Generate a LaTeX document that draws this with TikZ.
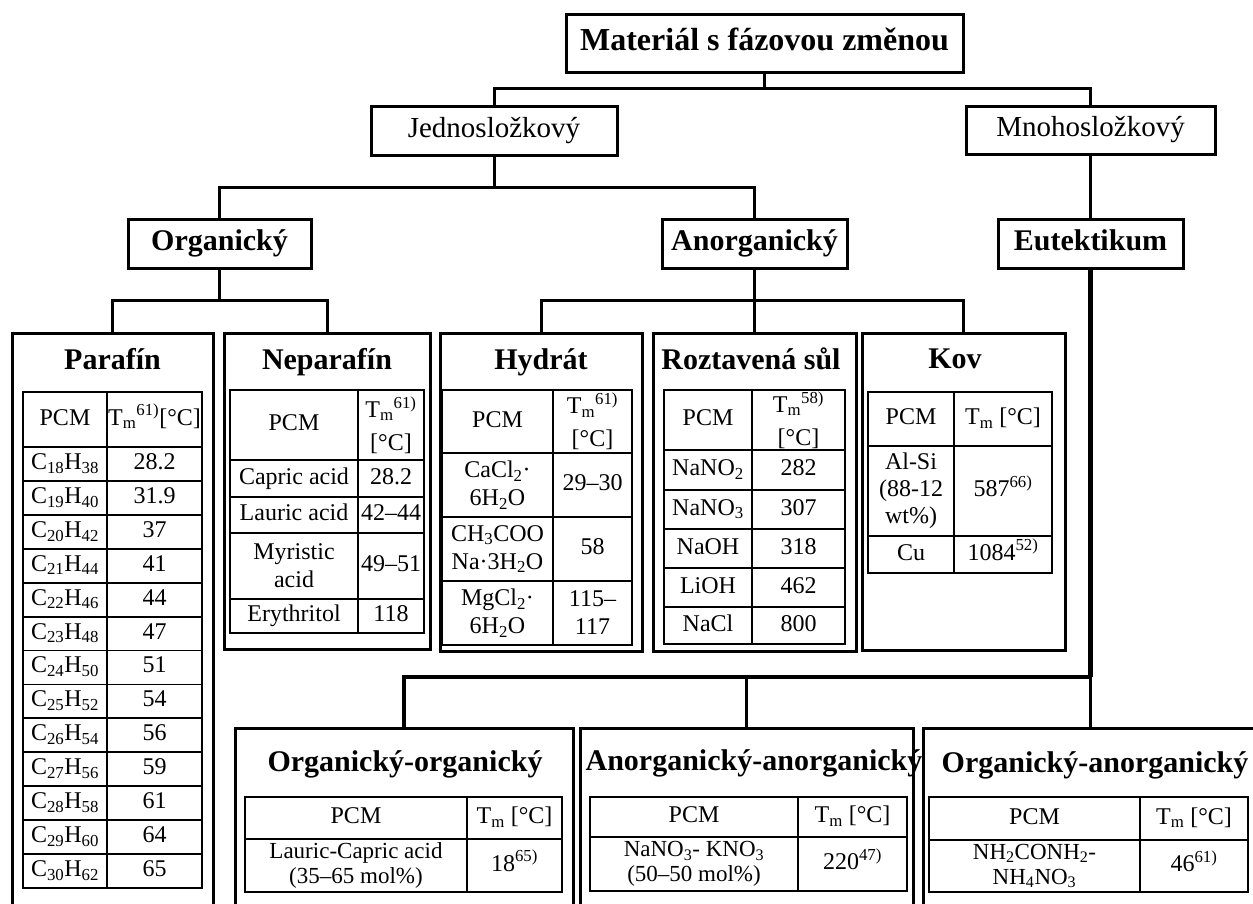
\documentclass[tikz,border=0pt]{standalone}
\usepackage{fontspec}
\setmainfont{Liberation Serif}
\newcommand\ssub[1]{\textsubscript{#1}}
\newcommand\ssup[1]{\textsuperscript{#1}}
\newcommand\Tm[1]{T\textsubscript{m}\textsuperscript{#1}}
\begin{document}
\begin{tikzpicture}[x=1pt,y=-1pt,
  box/.style={draw, line width=3pt, fill=white, inner sep=0pt},
  topbox/.style={box, text height=21.8pt, text depth=7pt, font=\fontsize{32}{36}\selectfont\bfseries},
  midbox/.style={box, text height=19.7pt, text depth=6.4pt, font=\fontsize{29}{33}\selectfont},
  catbox/.style={box, text height=20.4pt, text depth=6.6pt, font=\fontsize{30}{34}\selectfont\bfseries},
  ttl/.style={inner sep=0pt, text height=20.4pt, text depth=6.6pt, font=\fontsize{30}{34}\selectfont\bfseries},
  cell/.style={inner sep=0pt, text height=16.3pt, text depth=5.3pt, font=\fontsize{24}{28}\selectfont},
  mcell/.style={inner sep=0pt, align=center, font=\fontsize{24}{28}\selectfont},
  tcell/.style={inner sep=0pt, align=center, font=\fontsize{23}{25}\selectfont},
  hcell/.style={inner sep=0pt, align=center, font=\fontsize{24}{33}\selectfont},
  tout/.style={line width=2.5pt},
  tin/.style={line width=1.8pt},
  conn/.style={line width=3pt},
  eutconn/.style={line width=5.5pt},
  botconn/.style={line width=3.8pt}]
\useasboundingbox (0,0) rectangle (1253,903);
\fill[white] (0,0) rectangle (1253,903);
\clip (0,0) rectangle (1253,903);

% ---------- hierarchy boxes
\node[topbox, minimum width=397pt, minimum height=58pt] (mat) at (764.5,43) {Materiál s fázovou změnou};
\node[midbox, minimum width=246pt, minimum height=49pt] (jedno) at (494,130.5) {Jednosložkový};
\node[midbox, minimum width=249pt, minimum height=48pt] (mnoho) at (1090.5,130) {Mnohosložkový};
\node[catbox, minimum width=183pt, minimum height=49pt] (org) at (219.5,243.5) {Organický};
\node[catbox, minimum width=185pt, minimum height=49pt] (anorg) at (754.5,243.5) {Anorganický};
\node[catbox, minimum width=185pt, minimum height=49pt] (eut) at (1090.5,243.5) {Eutektikum};

% ---------- container boxes
\node[box, minimum width=201pt, minimum height=597pt] (par) at (112.5,631.5) {};
\node[box, minimum width=206pt, minimum height=316pt] (nepar) at (327,491) {};
\node[box, minimum width=202pt, minimum height=318pt] (hyd) at (541,492) {};
\node[box, minimum width=203pt, minimum height=318pt] (roz) at (754.5,492) {};
\node[box, minimum width=203pt, minimum height=317pt] (kov) at (963.5,491.5) {};
\node[box, minimum width=338pt, minimum height=202pt] (oo) at (404,829) {};
\node[box, minimum width=333pt, minimum height=202pt] (aa) at (746.5,829) {};
\node[box, minimum width=334pt, minimum height=202pt] (oa) at (1090.5,829) {};

% ---------- connectors
\draw[conn] (mat.south) -- (mat.south |- 0,88);
\draw[conn] (jedno.north) |- (mnoho.north |- 0,88) -- (mnoho.north);
\draw[conn] (jedno.south) -- (jedno.south |- 0,187);
\draw[conn] (org.north) |- (anorg.north |- 0,187) -- (anorg.north);
\draw[conn] (mnoho.south) -- (eut.north);
\draw[conn] (org.south) -- (org.south |- 0,300);
\draw[conn] (par.north) |- (nepar.north |- 0,300) -- (nepar.north);
\draw[conn] (anorg.south) -- (roz.north);
\draw[conn] (hyd.north) |- (kov.north |- 0,300) -- (kov.north);
\draw[eutconn] (eut.south) -- (eut.south |- 0,677);
\draw[botconn] (oo.north) |- (oa.north |- 0,677) -- (oa.north);
\draw[botconn] (aa.north) -- (aa.north |- 0,677);

% ---------- titles
\node[ttl] (tpar) at (112.5,363) {Parafín};
\node[ttl] (tnepar) at (327,363) {Neparafín};
\node[ttl] (thyd) at (541,363) {Hydrát};
\node[ttl] (troz) at (751,363) {Roztavená sůl};
\node[ttl] (tkov) at (955,362) {Kov};
\node[ttl] (too) at (405,765) {Organický-organický};
\node[ttl] (taa) at (754,764) {Anorganický-anorganický};
\node[ttl] (toa) at (1095,766) {Organický-anorganický};

% ---------- Parafín table
\draw[tin] (107,392) -- (107,888);
\foreach \i in {0,...,12} {\draw[tin] (23,{447+33.92*\i}) -- (202,{447+33.92*\i});}
\draw[tout] (23,392) rectangle (202,888);
\node[cell] (ph1) at (65,419.5) {PCM};
\node[cell] (ph2) at (154.5,419.5) {\Tm{61)}[°C]};
\foreach \n/\v [count=\i from 0] in {18/28.2,19/31.9,20/37,21/41,22/44,23/47,24/51,25/54,26/56,27/59,28/61,29/64,30/65} {
  \pgfmathtruncatemacro\h{2*\n+2}
  \node[cell] (pc\i) at (65,{447+33.92*(\i+0.5)}) {C\ssub{\n}H\ssub{\h}};
  \node[cell] (pv\i) at (154.5,{447+33.92*(\i+0.5)}) {\v};
}

% ---------- Neparafín table
\draw[tin] (358,390) -- (358,633);
\foreach \y in {460,497,533,599} {\draw[tin] (230,\y) -- (424,\y);}
\draw[tout] (230,390) rectangle (424,633);
\node[cell] (nh1) at (294,425) {PCM};
\node[hcell] (nh2) at (391,425) {\Tm{61)}\\{[°C]}};
\node[cell] (nc1) at (294,478.5) {Capric acid};
\node[cell] (nv1) at (391,478.5) {28.2};
\node[cell] (nc2) at (294,515) {Lauric acid};
\node[cell] (nv2) at (391,515) {42–44};
\node[mcell] (nc3) at (294,566) {Myristic\\acid};
\node[cell] (nv3) at (391,566) {49–51};
\node[cell] (nc4) at (294,616) {Erythritol};
\node[cell] (nv4) at (391,616) {118};

% ---------- Hydrát table
\draw[tin] (553,390) -- (553,645);
\foreach \y in {453,517,581} {\draw[tin] (442,\y) -- (632,\y);}
\draw[tout] (442,390) rectangle (632,645);
\node[cell] (hh1) at (497.5,421.5) {PCM};
\node[hcell] (hh2) at (592.5,421.5) {\Tm{61)}\\{[°C]}};
\node[mcell] (hc1) at (497.5,485) {CaCl\ssub{2}·\\6H\ssub{2}O};
\node[cell] (hv1) at (592.5,485) {29–30};
\node[mcell] (hc2) at (497.5,549) {CH\ssub{3}COO\\Na·3H\ssub{2}O};
\node[cell] (hv2) at (592.5,549) {58};
\node[mcell] (hc3) at (497.5,613) {MgCl\ssub{2}·\\6H\ssub{2}O};
\node[mcell] (hv3) at (592.5,613) {115–\\117};

% ---------- Roztavená sůl table
\draw[tin] (752,390) -- (752,644);
\foreach \y in {450,490,529,568,607} {\draw[tin] (664,\y) -- (845,\y);}
\draw[tout] (664,390) rectangle (845,644);
\node[cell] (rh1) at (708,420) {PCM};
\node[hcell] (rh2) at (798.5,420) {\Tm{58)}\\{[°C]}};
\node[cell] (rc1) at (708,470) {NaNO\ssub{2}};
\node[cell] (rv1) at (798.5,470) {282};
\node[cell] (rc2) at (708,509.5) {NaNO\ssub{3}};
\node[cell] (rv2) at (798.5,509.5) {307};
\node[cell] (rc3) at (708,548.5) {NaOH};
\node[cell] (rv3) at (798.5,548.5) {318};
\node[cell] (rc4) at (708,587.5) {LiOH};
\node[cell] (rv4) at (798.5,587.5) {462};
\node[cell] (rc5) at (708,625.5) {NaCl};
\node[cell] (rv5) at (798.5,625.5) {800};

% ---------- Kov table
\draw[tin] (954,392) -- (954,573);
\foreach \y in {446,536} {\draw[tin] (868,\y) -- (1052,\y);}
\draw[tout] (868,392) rectangle (1052,573);
\node[cell] (kh1) at (911,419) {PCM};
\node[cell] (kh2) at (1003,419) {T\ssub{m} [°C]};
\node[mcell, font=\fontsize{24}{27}\selectfont] (kc1) at (911,491) {Al-Si\\(88-12\\wt\%)};
\node[cell] (kv1) at (1003,491) {587\ssup{66)}};
\node[cell] (kc2) at (911,554.5) {Cu};
\node[cell] (kv2) at (1003,554.5) {1084\ssup{52)}};

% ---------- Organický-organický table
\draw[tin] (467,797) -- (467,892);
\draw[tin] (245,839) -- (562,839);
\draw[tout] (245,797) rectangle (562,892);
\node[cell] (oh1) at (356,818) {PCM};
\node[cell] (oh2) at (514.5,818) {T\ssub{m} [°C]};
\node[tcell] (oc1) at (356,865.5) {Lauric-Capric acid\\(35–65 mol\%)};
\node[cell] (ov1) at (514.5,865.5) {18\ssup{65)}};

% ---------- Anorganický-anorganický table
\draw[tin] (798,797) -- (798,891);
\draw[tin] (590,837) -- (907,837);
\draw[tout] (590,797) rectangle (907,891);
\node[cell] (ah1) at (694,817) {PCM};
\node[cell] (ah2) at (852.5,817) {T\ssub{m} [°C]};
\node[tcell] (ac1) at (694,864) {NaNO\ssub{3}- KNO\ssub{3}\\(50–50 mol\%)};
\node[cell] (av1) at (852.5,864) {220\ssup{47)}};

% ---------- Organický-anorganický table
\draw[tin] (1140,797) -- (1140,892);
\draw[tin] (929,840) -- (1248,840);
\draw[tout] (929,797) rectangle (1248,892);
\node[cell] (xh1) at (1034.5,818.5) {PCM};
\node[cell] (xh2) at (1194,818.5) {T\ssub{m} [°C]};
\node[tcell] (xc1) at (1034.5,866) {NH\ssub{2}CONH\ssub{2}-\\NH\ssub{4}NO\ssub{3}};
\node[cell] (xv1) at (1194,866) {46\ssup{61)}};
\end{tikzpicture}
\end{document}
